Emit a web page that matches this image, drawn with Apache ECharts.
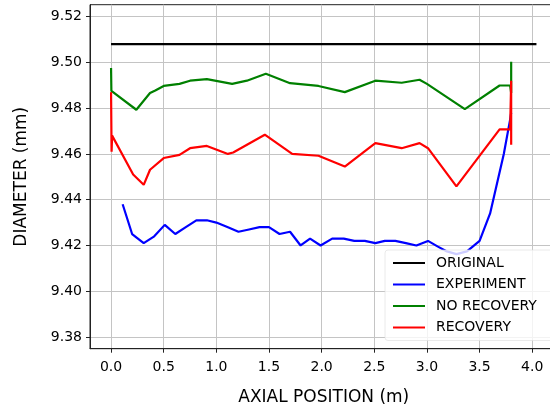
<!DOCTYPE html>
<html>
<head>
<meta charset="utf-8">
<script src="https://cdn.jsdelivr.net/npm/echarts@6/dist/echarts.min.js"></script>
<style>
  html, body { margin: 0; padding: 0; background: #fff; }
  #chart { width: 550px; height: 408px; }
</style>
</head>
<body>
<div id="chart"></div>
<script>
// axis ticks
const xTicks = [0, 0.5, 1, 1.5, 2, 2.5, 3, 3.5, 4]
const yTicks = [9.38, 9.40, 9.42, 9.44, 9.46, 9.48, 9.50, 9.52]

// ORIGINAL
const originalX = [0, 4.04]
const originalY = [9.508, 9.508]

// EXPERIMENT
const experimentX = [0.11, 0.20, 0.31, 0.41, 0.51, 0.61, 0.71, 0.81, 0.91, 1.00,
  1.11, 1.21, 1.31, 1.41, 1.50, 1.60, 1.70, 1.80, 1.89, 1.99,
  2.10, 2.21, 2.31, 2.41, 2.51, 2.60, 2.70, 2.80, 2.90, 3.01,
  3.10, 3.19, 3.28, 3.38, 3.50, 3.60, 3.66, 3.73, 3.79, 3.80]
const experimentY = [9.438, 9.425, 9.421, 9.424, 9.429, 9.425, 9.428, 9.431, 9.431, 9.430,
  9.428, 9.426, 9.427, 9.428, 9.428, 9.425, 9.426, 9.420, 9.423, 9.420,
  9.423, 9.423, 9.422, 9.422, 9.421, 9.422, 9.422, 9.421, 9.420, 9.422,
  9.4196, 9.4174, 9.4162, 9.4174, 9.422, 9.434, 9.446, 9.460, 9.475, 9.478]

// NO RECOVERY
const noRecoveryX = [0, 0.003, 0.24, 0.37, 0.42, 0.50, 0.65, 0.75, 0.91, 1.15,
  1.29, 1.47, 1.70, 1.97, 2.22, 2.51, 2.76, 2.93, 3.00, 3.36,
  3.69, 3.79, 3.80, 3.80]
const noRecoveryY = [9.4975, 9.4875, 9.4793, 9.4866, 9.4877, 9.4897, 9.4906, 9.492, 9.4927, 9.4906,
  9.492, 9.495, 9.4909, 9.4897, 9.487, 9.492, 9.4911, 9.4924, 9.4906, 9.4796,
  9.4899, 9.4899, 9.4866, 9.5003]

// RECOVERY
const recoveryX = [0, 0.005, 0.01, 0.21, 0.31, 0.37, 0.50, 0.65, 0.75, 0.91,
  1.11, 1.16, 1.46, 1.72, 1.97, 2.22, 2.51, 2.76, 2.93, 3.01,
  3.28, 3.69, 3.79, 3.80, 3.80]
const recoveryY = [9.487, 9.461, 9.468, 9.451, 9.4465, 9.4531, 9.4582, 9.4596, 9.4625, 9.4635,
  9.460, 9.4606, 9.4684, 9.460, 9.4592, 9.4545, 9.4647, 9.4625, 9.4647, 9.4625,
  9.4458, 9.4707, 9.4707, 9.492, 9.464]

const font = 'DejaVu Sans'
const zip = (xs, ys) => xs.map((x, i) => [x, ys[i]])

const makeSeries = (name, xs, ys, color) => ({
  name: name,
  type: 'line',
  data: zip(xs, ys),
  showSymbol: false,
  symbol: 'none',
  animation: false,
  color: color,
  lineStyle: { color: color, width: 2.2 }
})

const chart = echarts.init(document.getElementById('chart'))
chart.setOption({
  animation: false,
  grid: {
    left: 90, top: 4.7, right: -7.5, bottom: 59.3,
    outerBoundsMode: 'none',
    containLabel: false,
    show: true, borderColor: '#222', borderWidth: 1, backgroundColor: 'transparent'
  },
  legend: {
    orient: 'vertical',
    left: 385, top: 250,
    padding: [6, 30, 6, 8],
    itemGap: 7.5,
    itemWidth: 32, itemHeight: 2,
    icon: 'rect',
    backgroundColor: 'rgba(255,255,255,0.8)',
    borderColor: 'rgba(220,220,220,0.6)',
    borderWidth: 1,
    borderRadius: 3,
    textStyle: { fontFamily: font, fontSize: 14, color: '#000', padding: [0, 0, 0, 6], lineHeight: 14 },
    data: ['ORIGINAL', 'EXPERIMENT', 'NO RECOVERY', 'RECOVERY']
  },
  xAxis: {
    type: 'value',
    min: -0.2, max: 4.24,
    name: 'AXIAL POSITION (m)',
    nameLocation: 'middle',
    nameGap: 40,
    nameTextStyle: { fontFamily: font, fontSize: 17, color: '#000' },
    axisLine: { show: true, onZero: false, lineStyle: { color: '#222', width: 1 } },
    axisTick: { show: true, inside: false, length: 4, lineStyle: { color: '#222' }, customValues: xTicks },
    axisLabel: {
      customValues: xTicks, margin: 12,
      fontFamily: font, fontSize: 14, color: '#000',
      formatter: v => v.toFixed(1)
    },
    splitLine: { show: true, lineStyle: { color: '#c4c4c4', width: 1 } }
  },
  yAxis: {
    type: 'value',
    min: 9.3749, max: 9.5252,
    name: 'DIAMETER (mm)',
    nameLocation: 'middle',
    nameGap: 60,
    nameRotate: 90,
    nameTextStyle: { fontFamily: font, fontSize: 17, color: '#000' },
    axisLine: { show: true, onZero: false, lineStyle: { color: '#222', width: 1 } },
    axisTick: { show: true, inside: false, length: 4, lineStyle: { color: '#222' }, customValues: yTicks },
    axisLabel: {
      customValues: yTicks, margin: 8,
      fontFamily: font, fontSize: 14, color: '#000',
      formatter: v => v.toFixed(2)
    },
    splitLine: { show: true, lineStyle: { color: '#c4c4c4', width: 1 } }
  },
  series: [
    makeSeries('ORIGINAL', originalX, originalY, '#000000'),
    makeSeries('EXPERIMENT', experimentX, experimentY, '#0000ff'),
    makeSeries('NO RECOVERY', noRecoveryX, noRecoveryY, '#008000'),
    makeSeries('RECOVERY', recoveryX, recoveryY, '#ff0000')
  ]
})
</script>
</body>
</html>
